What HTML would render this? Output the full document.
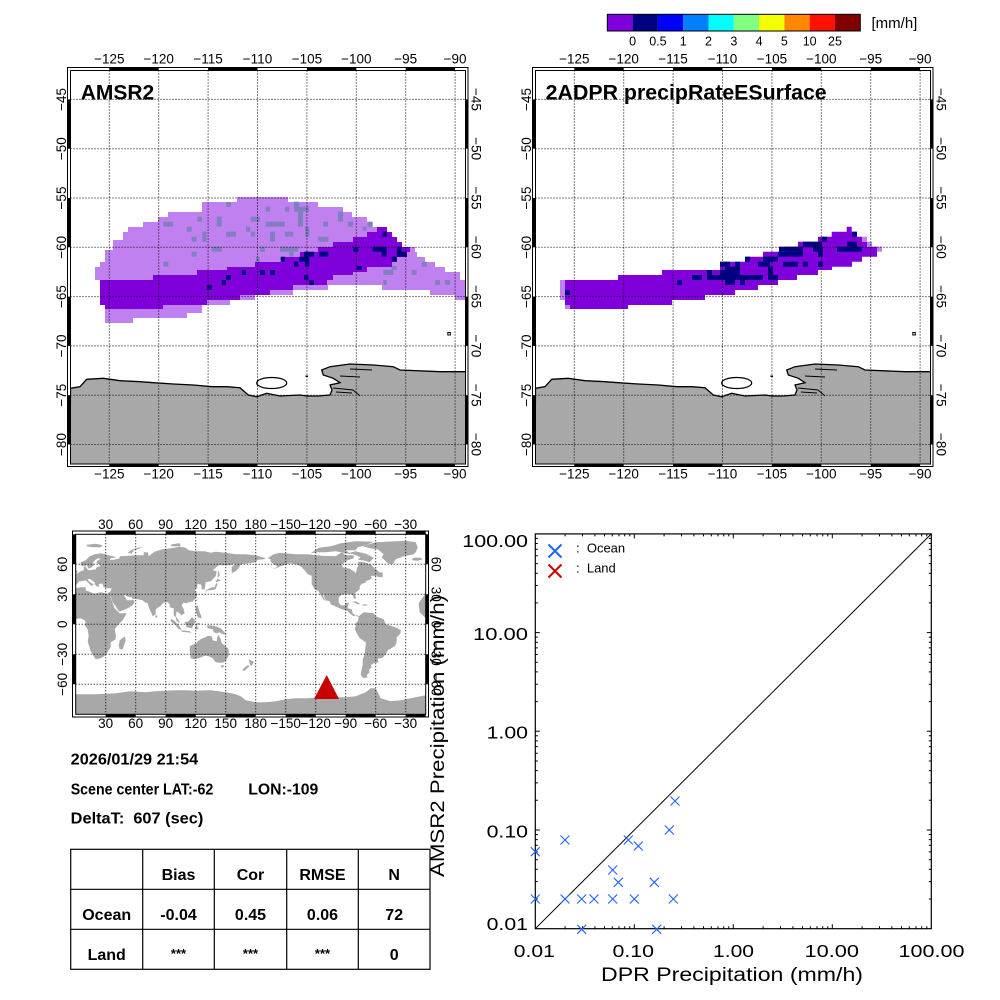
<!DOCTYPE html>
<html><head><meta charset="utf-8"><style>html,body{margin:0;padding:0;background:#fff}svg{display:block}</style></head>
<body>
<svg width="1000" height="1000" viewBox="0 0 1000 1000" xmlns="http://www.w3.org/2000/svg" xmlns:xlink="http://www.w3.org/1999/xlink" font-family="'Liberation Sans', sans-serif">
<rect width="1000" height="1000" fill="#fff"/>
<defs>
<clipPath id="cA"><rect x="70.5" y="70.5" width="395" height="393.5"/></clipPath>
<clipPath id="cW"><rect x="75.7" y="534.3" width="350" height="180"/></clipPath>
<g id="mb">
 <g clip-path="url(#cA)">
  <path d="M70.5,388.3 L80,386.7 L86.7,379.3 L103.3,378.3 L120,380.7 L140,381.7 L153.3,382.7 L173.3,384 L193.3,385 L211.7,386.7 L226.7,386.7 L240,387.7 L248.3,395 L256.7,396.7 L266.7,393.3 L280,396 L300,395 L306.7,396 L318,396 L330,395 L332,390 L330,385 L340,382.7 L333.3,378.3 L323.3,375 L321.7,370 L330,366.7 L350,364 L373.3,365 L393.3,366.7 L400,370 L440,371.7 L466,371.7 L466,465 L70,465 Z" fill="#a8a8a8" stroke="#000" stroke-width="1.3"/>
  <path d="M333,388 L353,390 L360,396 M336,392 L352,393 M340,376 L360,377 M350,369 L372,370" fill="none" stroke="#000" stroke-width="1"/>
  <ellipse cx="271.7" cy="383" rx="15" ry="5.5" fill="#fff" stroke="#000" stroke-width="1.2"/>
  <rect x="447.8" y="332.5" width="2.5" height="2.5" fill="none" stroke="#000" stroke-width="1"/>
  <rect x="305.5" y="375.5" width="2.5" height="1.5" fill="#000"/>
 </g>
 <g stroke="#000" stroke-width="1" stroke-dasharray="1 2" fill="none">
  <path d="M109.3,70.5V464M158.7,70.5V464M208.1,70.5V464M257.5,70.5V464M306.9,70.5V464M356.3,70.5V464M405.7,70.5V464M455.1,70.5V464"/>
  <path d="M70.5,99.4H465.5M70.5,148.7H465.5M70.5,198H465.5M70.5,247.3H465.5M70.5,296.6H465.5M70.5,345.9H465.5M70.5,395.2H465.5M70.5,444.5H465.5"/>
 </g>
 <g fill="#000">
  <rect x="109.3" y="67.5" width="49.4" height="3"/><rect x="208.1" y="67.5" width="49.4" height="3"/><rect x="306.9" y="67.5" width="49.4" height="3"/><rect x="405.7" y="67.5" width="49.4" height="3"/>
  <rect x="109.3" y="464" width="49.4" height="2.5"/><rect x="208.1" y="464" width="49.4" height="2.5"/><rect x="306.9" y="464" width="49.4" height="2.5"/><rect x="405.7" y="464" width="49.4" height="2.5"/>
  <rect x="67.5" y="99.4" width="3" height="49.3"/><rect x="67.5" y="198" width="3" height="49.3"/><rect x="67.5" y="296.6" width="3" height="49.3"/><rect x="67.5" y="395.2" width="3" height="49.3"/>
  <rect x="465.5" y="99.4" width="2.5" height="49.3"/><rect x="465.5" y="198" width="2.5" height="49.3"/><rect x="465.5" y="296.6" width="2.5" height="49.3"/><rect x="465.5" y="395.2" width="2.5" height="49.3"/>
 </g>
 <rect x="67.5" y="67.5" width="400.5" height="399" fill="none" stroke="#000" stroke-width="1"/>
 <rect x="70.5" y="70.5" width="395" height="393.5" fill="none" stroke="#000" stroke-width="1"/>
 <g font-size="13.5" text-anchor="middle" fill="#000">
  <text x="109.3" y="63.5">−125</text><text x="158.7" y="63.5">−120</text><text x="208.1" y="63.5">−115</text><text x="257.5" y="63.5">−110</text><text x="306.9" y="63.5">−105</text><text x="356.3" y="63.5">−100</text><text x="405.7" y="63.5">−95</text><text x="455.1" y="63.5">−90</text>
  <text x="109.3" y="478.5">−125</text><text x="158.7" y="478.5">−120</text><text x="208.1" y="478.5">−115</text><text x="257.5" y="478.5">−110</text><text x="306.9" y="478.5">−105</text><text x="356.3" y="478.5">−100</text><text x="405.7" y="478.5">−95</text><text x="455.1" y="478.5">−90</text>
  <text transform="translate(66,99.4) rotate(-90)">−45</text><text transform="translate(66,148.7) rotate(-90)">−50</text><text transform="translate(66,198) rotate(-90)">−55</text><text transform="translate(66,247.3) rotate(-90)">−60</text><text transform="translate(66,296.6) rotate(-90)">−65</text><text transform="translate(66,345.9) rotate(-90)">−70</text><text transform="translate(66,395.2) rotate(-90)">−75</text><text transform="translate(66,444.5) rotate(-90)">−80</text>
  <text transform="translate(471.5,99.4) rotate(90)">−45</text><text transform="translate(471.5,148.7) rotate(90)">−50</text><text transform="translate(471.5,198) rotate(90)">−55</text><text transform="translate(471.5,247.3) rotate(90)">−60</text><text transform="translate(471.5,296.6) rotate(90)">−65</text><text transform="translate(471.5,345.9) rotate(90)">−70</text><text transform="translate(471.5,395.2) rotate(90)">−75</text><text transform="translate(471.5,444.5) rotate(90)">−80</text>
 </g>
</g>
<g id="cont">
 <polygon points="-17,21 -16,12 -12,8 -8,4.5 -2,5 5,6 9,4 10,2 9,-1 12,-5 13,-12 12,-17 15,-27 18,-32 20,-35 25,-34 30,-31 33,-26 35,-23 35,-18 40,-15 40,-10 39,-5 42,-1 47,4 51,11 44,11 43,12 39,16 37,21 35,27 33,30 30,31 25,32 20,31 19,30.5 15,32 10,34 10,37 5,37 0,36 -5,36 -6,35 -10,30 -13,27"/>
 <polygon points="44,-25 47,-25 50,-16 49,-12 44,-16 43,-22"/>
 <polygon points="-9,43 -2,43.5 -1,46 -4,48 2,51 5,53 8,54 8,57 10,58 11,56 12,54.5 14,54 20,55 21,57 24,57.5 24,59.5 30,60 23,60 21,61 21,63 25,65.5 22,66 18,63 17,61 19,60 16,57 13,55.5 11,59 8,58 5,59 5,62 10,64 14,68 19,70 25,71 30,70 33,69 41,67 35,66 34,64.5 38,64.5 44,66 44,68 53,68.5 60,69 68,69 68,72 72,72 73,68 78,72 80,73 87,75 95,76 104,77.5 110,76.5 113,74 120,73 129,73 135,71.5 140,72.5 150,71.5 160,70 170,70 180,69 190,66 188,65 182,64.5 180,62 173,61 165,60 163,56 160,53 156,51 156,57 160,61 155,59 152,59 143,59 137,54 141,53 140,48 135,43 130,42 129,35 126,35 126,38 125,40 122,40 121,39 122,37 119,35 120,32 122,30 120,26 117,23 110,21 108,22 106,19 108,15 109,11 105,8.5 105,10 101,13 100,8 103,4 104,1.3 101,3 100,7 98,9 98,16 94,17 94,20 92,22 89,22 87,21 86,19 80,15 80,10 77,8 73,17 72,21 69,22 67,24 62,25 57,25.5 56,27 51,28 48,30 50,26 51,24 56,24 56.5,25 59,23 57,19 52,16 45,13 43,13 40,18 37,22 35,28 34,28 32,31 35,33 36,36 32,36 28,37 27,40 26,41 23,40 23,37 21,38 19,40 19,42 14,45.5 12,45 13,43 16,41 18,40 16,38 12,42 10,44 6,43 3,43 3,42 0,39 -1,37 -6,36 -9,37"/>
 <polygon points="-5,50 1,51 2,53 0,54 -2,56 -2,58 -5,58.5 -6,56 -3,55 -3,53 -5,52"/>
 <polygon points="11,78 17,77 25,77 27,79 20,80.5 11,79.5"/>
 <polygon points="52,71 56,71 58,74 68,77 62,76.5 55,74"/>
 <polygon points="95,78 105,78 104,81 96,80"/>
 <polygon points="-24,65 -22,66.5 -15,66.5 -13,65 -18,63.5 -22,63.8"/>
 <polygon points="-73,78 -60,82 -30,83.5 -20,82 -18,77 -20,72 -22,70 -32,68 -40,65 -43,60 -48,61 -52,65 -54,67 -52,70 -58,75 -66,76"/>
 <polygon points="-168,66 -162,70 -156,71.5 -140,70 -128,70 -115,68.5 -100,68 -94,72 -90,69 -82,69 -82,66 -88,64 -94,60 -93,57 -86,55.5 -82,53 -80,51 -79,55 -77,60 -78,62.5 -72,62 -65,60 -61,56 -56,52 -60,48 -65,48.5 -64,46 -66,44.5 -70,43 -70,41.5 -74,40.5 -76,38 -76,35 -81,31 -80,27 -80,25 -82,26 -83,29 -85,30 -89,30 -94,29.5 -97,27 -97,22 -95,19 -91,19 -90,21 -87,21.5 -88,16 -84,15 -83,11 -80,9 -77,8 -79,9.5 -82,8 -86,11 -88,13 -92,14.5 -96,16 -105,20 -106,23 -110,24 -112,29 -114,31 -112,27 -110,23 -112,24.5 -115,29 -117,33 -121,35 -124,40 -124,46 -124,48.5 -128,50 -131,54 -135,58 -140,60 -146,61 -152,59 -157,57 -163,55 -158,58 -162,60 -165,62.5 -165,65"/>
 <polygon points="-125,71 -117,76.5 -105,78 -95,81 -80,83 -62,82.5 -70,79 -78,77 -80,74 -90,74 -85,70 -95,72 -100,73 -110,72 -118,72"/>
 <polygon points="-80,73 -70,70.5 -62,66.5 -66,62 -73,64 -78,64.5 -75,67 -82,70 -88,71"/>
 <polygon points="-56,47 -53,47 -53,52 -58,51.5 -59,48"/>
 <polygon points="-85,22 -80,23 -75,20 -78,20 -82,22"/>
 <polygon points="-74,19 -69,18.5 -68,19.5 -72,20"/>
 <polygon points="-80,9 -77,8 -72,12 -62,11 -60,8 -52,5 -50,0 -45,-1.5 -38,-4 -35,-6 -35,-9 -39,-13 -39,-18 -41,-22 -48,-26 -49,-28.5 -53,-33.5 -58,-34.5 -57,-38 -62,-39 -65,-41 -64,-43 -67,-46 -66,-48 -69,-51 -68,-53 -72,-54 -75,-51 -74,-45 -73,-40 -73,-35 -71,-30 -70,-20 -70,-18 -76,-14 -80,-7 -81,-5 -80,-2 -80,1 -78,3 -77,7"/>
 <polygon points="114,-22 114,-26 115,-34 118,-35 123,-34 129,-31.5 133,-32 137,-34 138,-35.5 140,-38 144,-38.5 147,-38.5 150,-37 153,-31 153,-25 150,-22 146,-19 145,-15 143,-11 142,-11 141,-17 137,-16 136,-12 132,-11.5 130,-13 127,-14 125,-15 122,-17 121,-19 118,-20"/>
 <polygon points="145,-41 148,-41 148,-43 146,-43.5"/>
 <polygon points="173,-35 178,-37.5 176,-41.5 174.5,-41 174,-39"/>
 <polygon points="172,-41 174,-41.5 171,-44.5 169,-46.5 166.5,-46 168,-44"/>
 <polygon points="95,5.5 98,4 104,-2 106,-6 102,-4 100,-1 95,3"/>
 <polygon points="109,2 111,-3 116,-4 119,1 119,5 116,7 113,3"/>
 <polygon points="106,-6 114,-7 116,-8.5 106,-7.5"/>
 <polygon points="119,-5 121,1 125,1.5 121,-1 123,-5"/>
 <polygon points="131,-1 138,-1.5 145,-4 151,-10.5 147,-10 144,-8 141,-9 138,-8 137,-5 132,-4"/>
 <polygon points="120,18.5 122,18.5 124,12 126,7 125,6 122,7 120,13 120,16"/>
 <polygon points="130,31 131,34 135,34 140,35 141,38 142,40 141,41.5 140,40 139,37 136,37 133,35.5 130,34"/>
 <polygon points="140,42 145,43.5 142,45.5 140,43"/>
 <polygon points="142,46 144,49 143,54 142,51"/>
 <polygon points="120,22 122,25 121.5,25.3 120,23.5"/>
 <polygon points="80,6 82,7.5 80,9.8 79.8,8"/>
 <polygon points="0,-70 20,-70 40,-69 55,-67 70,-68 80,-67 90,-66.5 100,-66 110,-66 120,-66.5 135,-66 150,-68 160,-70 165,-72 170,-76 180,-78 190,-78 200,-77 210,-75 220,-74 230,-74 240,-73.5 250,-74 260,-73 270,-73 280,-72 290,-68 295,-64 300,-64 302,-68 305,-74 315,-77 325,-76 335,-74 345,-72 350,-71 360,-70 360,-90 0,-90"/>
</g>
</defs>

<!-- Colorbar -->
<rect x="607.3" y="14.3" width="25.3" height="16.7" fill="#8000dc"/>
<rect x="632.6" y="14.3" width="25.3" height="16.7" fill="#000080"/>
<rect x="657.9" y="14.3" width="25.3" height="16.7" fill="#0000ff"/>
<rect x="683.2" y="14.3" width="25.3" height="16.7" fill="#0080ff"/>
<rect x="708.5" y="14.3" width="25.3" height="16.7" fill="#00ffff"/>
<rect x="733.8" y="14.3" width="25.3" height="16.7" fill="#80ff80"/>
<rect x="759.1" y="14.3" width="25.3" height="16.7" fill="#f4ff00"/>
<rect x="784.4" y="14.3" width="25.3" height="16.7" fill="#ff8800"/>
<rect x="809.7" y="14.3" width="25.3" height="16.7" fill="#ff1000"/>
<rect x="835" y="14.3" width="25.3" height="16.7" fill="#800000"/>
<rect x="607.3" y="14.3" width="253" height="16.7" fill="none" stroke="#000" stroke-width="1"/>
<g font-size="12.5" text-anchor="middle">
<text x="632.6" y="45.5">0</text><text x="657.9" y="45.5">0.5</text><text x="683.2" y="45.5">1</text><text x="708.5" y="45.5">2</text><text x="733.8" y="45.5">3</text><text x="759.1" y="45.5">4</text><text x="784.4" y="45.5">5</text><text x="809.7" y="45.5">10</text><text x="835" y="45.5">25</text>
</g>
<text x="871.5" y="28" font-size="15">[mm/h]</text>

<!-- AMSR2 data -->
<g clip-path="url(#cA)">
<polygon fill="#c080f0" points="237,197 288,197 288,202 318,202 318,207 343,207 343,212 352,212 352,217 367,217 367,222 372,222 372,227 382,227 382,232 392,232 392,237 397,237 397,242 402,242 402,247 415,247 415,252 417,252 417,257 425,257 425,262 435,262 435,267 445,267 445,272 460,272 460,280 466,280 466,300 455,300 455,295 430,295 430,290 382,290 382,285 328,285 328,290 293,290 293,295 255,295 255,300 230,300 230,305 202,305 202,313 187,313 187,318 133,318 133,323 105,323 105,305 100,305 100,280 95,280 95,267 100,267 100,262 105,262 105,250 113,250 113,240 123,240 123,232 128,232 128,227 143,227 143,222 158,222 158,217 168,217 168,212 202,212 202,202 237,202"/>
<g fill="#8080c0">
<rect x="226" y="202" width="5" height="5"/><rect x="265.7" y="206.7" width="4.3" height="5"/><rect x="285" y="206.7" width="4.3" height="5"/><rect x="294" y="201.7" width="5" height="10"/><rect x="294" y="206.7" width="15" height="5"/><rect x="197.3" y="216.7" width="4.7" height="5"/><rect x="216.7" y="216.7" width="5" height="10"/><rect x="250.7" y="216.7" width="9.3" height="5"/><rect x="298" y="211.7" width="5" height="15"/><rect x="338" y="211.7" width="5" height="10"/><rect x="163.3" y="221.7" width="10" height="5"/><rect x="265.7" y="221.7" width="19.3" height="5"/><rect x="323" y="221.7" width="5" height="5"/><rect x="348" y="221.7" width="5" height="5"/><rect x="367.7" y="221.7" width="5" height="5"/><rect x="186.7" y="226.7" width="5" height="5"/><rect x="246" y="226.7" width="4" height="5"/><rect x="362.7" y="226.7" width="4" height="4"/><rect x="202.3" y="231.7" width="4.4" height="10"/><rect x="226" y="231.7" width="10" height="5"/><rect x="250.7" y="231.7" width="4.3" height="5"/><rect x="270" y="231.7" width="5" height="10"/><rect x="285" y="231.7" width="8.3" height="5"/><rect x="305" y="226.7" width="4.3" height="10"/><rect x="318.3" y="236.7" width="10" height="5"/><rect x="191.7" y="236.7" width="5" height="5"/><rect x="211.7" y="246.7" width="10" height="5"/><rect x="260" y="246.7" width="5" height="5"/><rect x="280" y="246.7" width="18.3" height="5"/><rect x="289.3" y="251.7" width="4" height="5"/><rect x="191.7" y="251.7" width="5" height="5"/><rect x="163.3" y="261.7" width="5" height="5"/><rect x="256" y="256.7" width="4" height="5"/><rect x="383.3" y="270" width="10" height="5"/><rect x="391.7" y="266" width="5" height="4"/><rect x="411.7" y="270" width="5" height="5"/><rect x="421.7" y="261.7" width="5" height="5"/><rect x="383.3" y="280" width="3.4" height="5"/><rect x="435" y="280" width="5" height="5"/><rect x="445" y="280" width="5" height="5"/>
</g>
<polygon fill="#8000dc" points="377,227 387,227 387,232 392,232 392,237 397,237 397,242 402,242 402,247 410,247 410,252 407,252 407,257 397,257 397,262 392,262 392,267 367,267 367,272 353,272 353,275 333,275 333,280 327,280 327,285 293,285 293,290 270,290 270,295 240,295 240,300 207,300 207,305 163,305 163,309 105,309 105,305 100,305 100,280 153,280 153,275 197,275 197,270 227,270 227,267 255,267 255,262 282,262 282,257 300,257 300,252 318,252 318,247 333,247 333,242 353,242 353,237 367,237 367,232 377,232"/>
<g fill="#000080">
<rect x="382.3" y="231.7" width="4.4" height="5"/><rect x="353.3" y="246.7" width="5" height="5"/><rect x="372.7" y="246.7" width="14" height="5"/><rect x="381.7" y="251.7" width="5" height="5"/><rect x="396.7" y="251.7" width="10" height="5"/><rect x="396.7" y="246.7" width="5" height="5"/><rect x="391.7" y="256.7" width="5" height="5"/><rect x="304" y="251.7" width="10" height="5"/><rect x="319.3" y="251.7" width="9" height="5"/><rect x="299.3" y="256.7" width="10" height="5"/><rect x="280.7" y="256.7" width="4.3" height="5"/><rect x="294" y="261.7" width="4.3" height="5"/><rect x="305" y="261.7" width="4.3" height="5"/><rect x="356.7" y="266" width="5" height="4"/><rect x="241.7" y="270" width="4.3" height="5"/><rect x="260" y="270" width="5" height="5"/><rect x="270" y="270" width="5" height="5"/><rect x="226" y="275" width="5" height="5"/><rect x="304" y="275" width="4.3" height="5"/><rect x="221.7" y="280" width="4.3" height="5"/><rect x="309.3" y="280" width="4.7" height="5"/><rect x="206.7" y="285" width="5" height="5"/>
</g>
</g>
<use xlink:href="#mb" href="#mb"/>
<text x="80.7" y="99.3" font-size="21" font-weight="bold">AMSR2</text>

<!-- DPR data -->
<g>
<polygon fill="#8000dc" points="846.7,226.7 851.7,226.7 851.7,231.7 856.7,231.7 856.7,236.7 862,236.7 862,241.7 867,241.7 867,246.7 877,246.7 877,256.7 862,256.7 862,261.7 852,261.7 852,266.7 832,266.7 832,270 818,270 818,275 797,275 797,280 778,280 778,285 758,285 758,290 735,290 735,295 705,295 705,300 672,300 672,305 628,305 628,309 570,309 570,305 565,305 565,280 618,280 618,275 662,275 662,270 720,270 720,261.7 745,261.7 745,256.7 763,256.7 763,251.7 785,251.7 785,246.7 798,246.7 798,241.7 818,241.7 818,236.7 831.7,236.7 831.7,231.7 846.7,231.7"/>
<g fill="#c080f0">
<rect x="862" y="236.7" width="5" height="5"/><rect x="867" y="241.7" width="5" height="5"/><rect x="877" y="246.7" width="5" height="5"/><rect x="560" y="280" width="5" height="20"/><rect x="565" y="305" width="5" height="4"/>
</g>
<g fill="#000080">
<rect x="745" y="256.7" width="5" height="5"/><rect x="763" y="256.7" width="15" height="5"/>
<rect x="720" y="261.7" width="10" height="5"/><rect x="735" y="261.7" width="5" height="5"/><rect x="758" y="261.7" width="12" height="5"/><rect x="783" y="261.7" width="15" height="5"/><rect x="803" y="261.7" width="5" height="5"/><rect x="818" y="261.7" width="5" height="5"/>
<rect x="778" y="251.7" width="25" height="5"/><rect x="818" y="251.7" width="5" height="5"/>
<rect x="779" y="246.7" width="24" height="5"/><rect x="813" y="246.7" width="10" height="5"/><rect x="837" y="246.7" width="25" height="5"/>
<rect x="803" y="241.7" width="19" height="5"/><rect x="847" y="241.7" width="10" height="5"/>
<rect x="822" y="236.7" width="5" height="5"/><rect x="852" y="231.7" width="5" height="5"/>
<rect x="725" y="266.7" width="15" height="3.3"/><rect x="768" y="266.7" width="5" height="3.3"/>
<rect x="707" y="270" width="5" height="5"/><rect x="720" y="270" width="20" height="5"/><rect x="768" y="270" width="5" height="5"/>
<rect x="692" y="275" width="10" height="5"/><rect x="707" y="275" width="56" height="5"/><rect x="768" y="275" width="10" height="5"/>
<rect x="677" y="280" width="5" height="5"/><rect x="725" y="280" width="10" height="5"/><rect x="740" y="280" width="5" height="5"/>
<rect x="565" y="290" width="5" height="5"/>
</g>
</g>
<use xlink:href="#mb" href="#mb" transform="translate(465,0)"/>
<text x="545.7" y="99.3" font-size="21" font-weight="bold" textLength="281" lengthAdjust="spacingAndGlyphs">2ADPR precipRateESurface</text>

<!-- World map -->
<g clip-path="url(#cW)">
 <g transform="translate(75.7,624.3) scale(1,-1)" fill="#a8a8a8">
  <use xlink:href="#cont" href="#cont"/>
  <use xlink:href="#cont" href="#cont" transform="translate(360,0)"/>
 </g>
</g>
<g stroke="#000" stroke-width="1" stroke-dasharray="1 2" fill="none">
 <path d="M105.7,534.3V714.3M135.7,534.3V714.3M165.7,534.3V714.3M195.7,534.3V714.3M225.7,534.3V714.3M255.7,534.3V714.3M285.7,534.3V714.3M315.7,534.3V714.3M345.7,534.3V714.3M375.7,534.3V714.3M405.7,534.3V714.3"/>
 <path d="M75.7,564.3H425.7M75.7,594.3H425.7M75.7,624.3H425.7M75.7,654.3H425.7M75.7,684.3H425.7"/>
</g>
<polygon points="314,699 339,699 326.7,675" fill="#c80000"/>
<g fill="#000">
 <rect x="105.7" y="531" width="30" height="3.3"/><rect x="165.7" y="531" width="30" height="3.3"/><rect x="225.7" y="531" width="30" height="3.3"/><rect x="285.7" y="531" width="30" height="3.3"/><rect x="345.7" y="531" width="30" height="3.3"/><rect x="405.7" y="531" width="20" height="3.3"/>
 <rect x="105.7" y="714.3" width="30" height="2.7"/><rect x="165.7" y="714.3" width="30" height="2.7"/><rect x="225.7" y="714.3" width="30" height="2.7"/><rect x="285.7" y="714.3" width="30" height="2.7"/><rect x="345.7" y="714.3" width="30" height="2.7"/><rect x="405.7" y="714.3" width="20" height="2.7"/>
 <rect x="72.5" y="534.3" width="3.2" height="30"/><rect x="72.5" y="594.3" width="3.2" height="30"/><rect x="72.5" y="654.3" width="3.2" height="30"/>
 <rect x="425.7" y="534.3" width="2.8" height="30"/><rect x="425.7" y="594.3" width="2.8" height="30"/><rect x="425.7" y="654.3" width="2.8" height="30"/>
</g>
<rect x="72.5" y="531" width="356" height="186" fill="none" stroke="#000" stroke-width="1"/>
<rect x="75.7" y="534.3" width="350" height="180" fill="none" stroke="#000" stroke-width="1"/>
<g font-size="13.5" text-anchor="middle">
 <text x="105.7" y="529">30</text><text x="135.7" y="529">60</text><text x="165.7" y="529">90</text><text x="195.7" y="529">120</text><text x="225.7" y="529">150</text><text x="255.7" y="529">180</text><text x="285.7" y="529">−150</text><text x="315.7" y="529">−120</text><text x="345.7" y="529">−90</text><text x="375.7" y="529">−60</text><text x="405.7" y="529">−30</text>
 <text x="105.7" y="728">30</text><text x="135.7" y="728">60</text><text x="165.7" y="728">90</text><text x="195.7" y="728">120</text><text x="225.7" y="728">150</text><text x="255.7" y="728">180</text><text x="285.7" y="728">−150</text><text x="315.7" y="728">−120</text><text x="345.7" y="728">−90</text><text x="375.7" y="728">−60</text><text x="405.7" y="728">−30</text>
 <text transform="translate(67,564.3) rotate(-90)">60</text><text transform="translate(67,594.3) rotate(-90)">30</text><text transform="translate(67,624.3) rotate(-90)">0</text><text transform="translate(67,654.3) rotate(-90)">−30</text><text transform="translate(67,684.3) rotate(-90)">−60</text>
 <text transform="translate(431.5,564.3) rotate(90)">60</text><text transform="translate(431.5,594.3) rotate(90)">30</text><text transform="translate(431.5,624.3) rotate(90)">0</text><text transform="translate(431.5,654.3) rotate(90)">−30</text><text transform="translate(431.5,684.3) rotate(90)">−60</text>
</g>

<!-- Info text -->
<g font-size="16" font-weight="bold">
 <text x="70.7" y="764.5" textLength="127.5" lengthAdjust="spacingAndGlyphs">2026/01/29 21:54</text>
 <text x="70.7" y="794.5" textLength="142.6" lengthAdjust="spacingAndGlyphs">Scene center LAT:-62</text>
 <text x="248.3" y="794.5" textLength="70" lengthAdjust="spacingAndGlyphs">LON:-109</text>
 <text x="70.7" y="823.5" textLength="132.6" lengthAdjust="spacingAndGlyphs" xml:space="preserve">DeltaT:  607 (sec)</text>
</g>
<!-- Table -->
<g stroke="#000" stroke-width="1.2" fill="none">
 <rect x="70.7" y="849.3" width="359.3" height="120"/>
 <path d="M142.7,849.3V969.3M214.3,849.3V969.3M286.7,849.3V969.3M358.3,849.3V969.3M70.7,889.3H430M70.7,929.3H430"/>
</g>
<g font-size="16" font-weight="bold" text-anchor="middle">
 <text x="178.5" y="880">Bias</text><text x="250.5" y="880">Cor</text><text x="322.5" y="880">RMSE</text><text x="394.2" y="880">N</text>
 <text x="106.7" y="920">Ocean</text><text x="178.5" y="920">-0.04</text><text x="250.5" y="920">0.45</text><text x="322.5" y="920">0.06</text><text x="394.2" y="920">72</text>
 <text x="106.7" y="960">Land</text><text x="178.5" y="958" font-size="13">***</text><text x="250.5" y="958" font-size="13">***</text><text x="322.5" y="958" font-size="13">***</text><text x="394.2" y="960">0</text>
</g>

<!-- Scatter plot -->
<rect x="535.3" y="533.9" width="396" height="394.8" fill="none" stroke="#000" stroke-width="1.2"/>
<line x1="535.3" y1="928.7" x2="931.3" y2="533.9" stroke="#000" stroke-width="1"/>
<g stroke="#000" stroke-width="1" fill="none">
 <path d="M634.3,928.7v-4.5M733.3,928.7v-4.5M832.3,928.7v-4.5M634.3,533.9v4.5M733.3,533.9v4.5M832.3,533.9v4.5M535.3,830h4.5M535.3,731.3h4.5M535.3,632.6h4.5M931.3,830h-4.5M931.3,731.3h-4.5M931.3,632.6h-4.5"/>
 <path d="M565.1,928.7v-2.5M582.5,928.7v-2.5M594.9,928.7v-2.5M604.5,928.7v-2.5M612.3,928.7v-2.5M619,928.7v-2.5M624.7,928.7v-2.5M629.8,928.7v-2.5M664.1,928.7v-2.5M681.5,928.7v-2.5M693.9,928.7v-2.5M703.5,928.7v-2.5M711.3,928.7v-2.5M718,928.7v-2.5M723.7,928.7v-2.5M728.8,928.7v-2.5M763.1,928.7v-2.5M780.5,928.7v-2.5M792.9,928.7v-2.5M802.5,928.7v-2.5M810.3,928.7v-2.5M817,928.7v-2.5M822.7,928.7v-2.5M827.8,928.7v-2.5M862.1,928.7v-2.5M879.5,928.7v-2.5M891.9,928.7v-2.5M901.5,928.7v-2.5M909.3,928.7v-2.5M916,928.7v-2.5M921.7,928.7v-2.5M926.8,928.7v-2.5"/>
 <path d="M565.1,533.9v2.5M582.5,533.9v2.5M594.9,533.9v2.5M604.5,533.9v2.5M612.3,533.9v2.5M619,533.9v2.5M624.7,533.9v2.5M629.8,533.9v2.5M664.1,533.9v2.5M681.5,533.9v2.5M693.9,533.9v2.5M703.5,533.9v2.5M711.3,533.9v2.5M718,533.9v2.5M723.7,533.9v2.5M728.8,533.9v2.5M763.1,533.9v2.5M780.5,533.9v2.5M792.9,533.9v2.5M802.5,533.9v2.5M810.3,533.9v2.5M817,533.9v2.5M822.7,533.9v2.5M827.8,533.9v2.5M862.1,533.9v2.5M879.5,533.9v2.5M891.9,533.9v2.5M901.5,533.9v2.5M909.3,533.9v2.5M916,533.9v2.5M921.7,533.9v2.5M926.8,533.9v2.5"/>
 <path d="M535.3,899h2.5M535.3,881.6h2.5M535.3,869.3h2.5M535.3,859.7h2.5M535.3,851.9h2.5M535.3,845.3h2.5M535.3,839.6h2.5M535.3,834.5h2.5M535.3,800.3h2.5M535.3,782.9h2.5M535.3,770.6h2.5M535.3,761h2.5M535.3,753.2h2.5M535.3,746.6h2.5M535.3,740.9h2.5M535.3,735.8h2.5M535.3,701.6h2.5M535.3,684.2h2.5M535.3,671.9h2.5M535.3,662.3h2.5M535.3,654.5h2.5M535.3,647.9h2.5M535.3,642.2h2.5M535.3,637.1h2.5M535.3,602.9h2.5M535.3,585.5h2.5M535.3,573.2h2.5M535.3,563.6h2.5M535.3,555.8h2.5M535.3,549.2h2.5M535.3,543.5h2.5M535.3,538.4h2.5"/>
 <path d="M931.3,899h-2.5M931.3,881.6h-2.5M931.3,869.3h-2.5M931.3,859.7h-2.5M931.3,851.9h-2.5M931.3,845.3h-2.5M931.3,839.6h-2.5M931.3,834.5h-2.5M931.3,800.3h-2.5M931.3,782.9h-2.5M931.3,770.6h-2.5M931.3,761h-2.5M931.3,753.2h-2.5M931.3,746.6h-2.5M931.3,740.9h-2.5M931.3,735.8h-2.5M931.3,701.6h-2.5M931.3,684.2h-2.5M931.3,671.9h-2.5M931.3,662.3h-2.5M931.3,654.5h-2.5M931.3,647.9h-2.5M931.3,642.2h-2.5M931.3,637.1h-2.5M931.3,602.9h-2.5M931.3,585.5h-2.5M931.3,573.2h-2.5M931.3,563.6h-2.5M931.3,555.8h-2.5M931.3,549.2h-2.5M931.3,543.5h-2.5M931.3,538.4h-2.5"/>
</g>
<g font-size="17.5" text-anchor="end">
 <text x="528" y="547" textLength="65.7" lengthAdjust="spacingAndGlyphs">100.00</text>
 <text x="528" y="640" textLength="55" lengthAdjust="spacingAndGlyphs">10.00</text>
 <text x="528" y="738.5" textLength="41.4" lengthAdjust="spacingAndGlyphs">1.00</text>
 <text x="528" y="837.3" textLength="41.4" lengthAdjust="spacingAndGlyphs">0.10</text>
 <text x="528" y="930" textLength="41.4" lengthAdjust="spacingAndGlyphs">0.01</text>
</g>
<g font-size="17.5">
 <text x="513.8" y="957" textLength="41" lengthAdjust="spacingAndGlyphs">0.01</text>
 <text x="612.5" y="957" textLength="41.5" lengthAdjust="spacingAndGlyphs">0.10</text>
 <text x="713" y="957" textLength="41" lengthAdjust="spacingAndGlyphs">1.00</text>
 <text x="804.5" y="957" textLength="54.5" lengthAdjust="spacingAndGlyphs">10.00</text>
 <text x="898.5" y="957" textLength="66" lengthAdjust="spacingAndGlyphs">100.00</text>
</g>
<text x="601" y="981" font-size="19" textLength="262" lengthAdjust="spacingAndGlyphs">DPR Precipitation (mm/h)</text>
<text transform="translate(444,877) rotate(-90)" font-size="19" textLength="282" lengthAdjust="spacingAndGlyphs">AMSR2 Precipitation (mm/h)</text>

<!-- Legend -->
<g stroke-width="2" fill="none">
 <path d="M548.5,544.5L561.5,557.5M561.5,544.5L548.5,557.5" stroke="#1e64ff"/>
 <path d="M548.5,564.5L561.5,577.5M561.5,564.5L548.5,577.5" stroke="#cc0000"/>
</g>
<g font-size="13">
 <text x="576" y="552.5" xml:space="preserve">:  Ocean</text>
 <text x="576" y="572.5" xml:space="preserve">:  Land</text>
</g>

<!-- Points -->
<g stroke="#1e64ff" stroke-width="1.1" fill="none">
<path d="M670.5,796.5l9,9m0,-9l-9,9
M664.8,825.5l9,9m0,-9l-9,9
M560.5,835.5l9,9m0,-9l-9,9
M623.8,835.5l9,9m0,-9l-9,9
M633.8,841.5l9,9m0,-9l-9,9
M530.8,847.2l9,9m0,-9l-9,9
M608.2,865.5l9,9m0,-9l-9,9
M613.8,877.8l9,9m0,-9l-9,9
M649.8,877.8l9,9m0,-9l-9,9
M530.8,894.5l9,9m0,-9l-9,9
M560.5,894.5l9,9m0,-9l-9,9
M577.2,894.5l9,9m0,-9l-9,9
M589.5,894.5l9,9m0,-9l-9,9
M608.2,894.5l9,9m0,-9l-9,9
M629.8,894.5l9,9m0,-9l-9,9
M668.8,894.5l9,9m0,-9l-9,9
M577.2,924.8l9,9m0,-9l-9,9
M652.2,924.8l9,9m0,-9l-9,9"/>
</g>
</svg>
</body></html>
